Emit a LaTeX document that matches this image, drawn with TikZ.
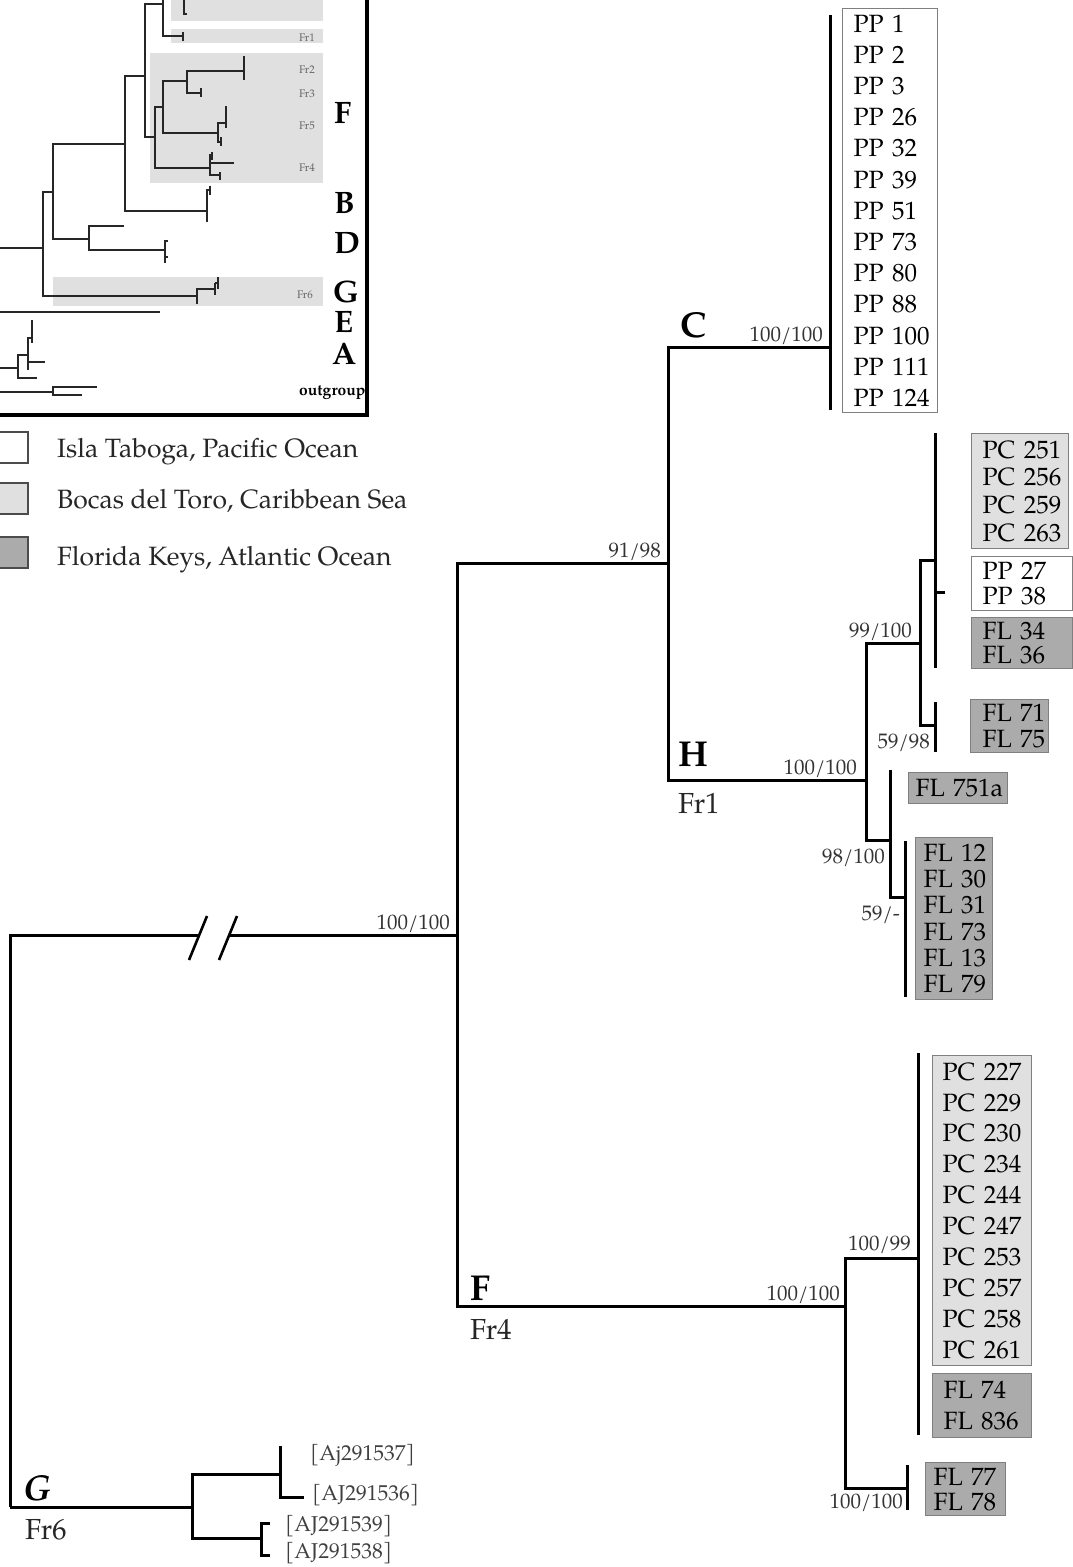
\documentclass[tikz,border=0pt]{standalone}
\usepackage{fontspec}
\setmainfont{texgyrepagella}[Extension=.otf, UprightFont=*-regular, BoldFont=*-bold, ItalicFont=*-italic, BoldItalicFont=*-bolditalic]
\usepackage{xcolor}
\usepackage{tikz}

\definecolor{bocas}{HTML}{E0E0E0}
\definecolor{keys}{HTML}{ABABAB}
\definecolor{boxline}{HTML}{7F7F7F}
\newcommand{\tx}[1]{\fontsize{25}{#1}\selectfont}

\tikzset{
  branch/.style={line width=3pt},
  twig/.style={line width=1.4pt, black!85},
  boot/.style={anchor=base east, inner sep=0pt, text=black!80, font=\fontsize{21}{24}\selectfont},
  taxa/.style={draw=boxline, line width=1.2pt, anchor=north west, align=left, inner ysep=0pt},
  clade/.style={anchor=base west, inner sep=0pt, font=\fontsize{36}{40}\selectfont\bfseries},
  frag/.style={anchor=base west, inner sep=0pt, text=black!85, font=\fontsize{29}{32}\selectfont},
  acc/.style={anchor=west, inner sep=0pt, text=black!75, font=\fontsize{21.5}{24}\selectfont},
  legbox/.style={draw=black!70, line width=1.5pt, minimum width=30pt, minimum height=31pt, inner sep=0pt},
  legtext/.style={anchor=base west, inner sep=0pt, text=black!85, font=\fontsize{26.5}{30}\selectfont},
  iclade/.style={anchor=base west, inner sep=0pt, text height=0.69em, text depth=0pt, font=\fontsize{31}{36}\selectfont\bfseries},
  ifrag/.style={anchor=base east, inner sep=0pt, text=black!60, font=\fontsize{11}{12}\selectfont},
}

\begin{document}
\begin{tikzpicture}[x=1pt, y=-1pt]
\useasboundingbox (0,0) rectangle (1072,1567);

% inset
\fill[bocas] (171,-5) rectangle (323,21);
\fill[bocas] (171,29) rectangle (323,43);
\fill[bocas] (150,53) rectangle (323,183);
\fill[bocas] (53,277) rectangle (323,306);
\draw[twig] (163,-5) -- (163,36) -- (183,36) (183,32) -- (183,41);
\draw[twig] (184,-2) -- (184,14) -- (187,14);
\draw[twig] (163,4) -- (145,4) -- (145,137) -- (155,137);
\draw[twig] (163,107) -- (155,107) -- (155,168) -- (210,168);
\draw[twig] (187,81) -- (163,81) -- (163,133) -- (218,133);
\draw[twig] (244,71) -- (187,71) -- (187,93) -- (201,93) (244,56) -- (244,80) (201,88) -- (201,97);
\draw[twig] (226,123) -- (218,123) -- (218,142) -- (221,142) (221,137) -- (221,146);
\draw[twig, line width=1.8pt] (226,106) -- (226,128);
\draw[twig] (212,155) -- (210,155) -- (210,175) -- (220,175) (210,163) -- (234,163) (220,172) -- (220,180) (212,152) -- (212,160);
\draw[twig] (145,76) -- (125,76) -- (125,211) -- (207,211) (207,222) -- (207,190) -- (210,190) (210,186) -- (210,195);
\draw[twig] (125,144) -- (53,144) -- (53,239) -- (89,239) (124,226) -- (89,226) -- (89,250) -- (165,250);
\draw[twig] (165,240) -- (165,263) (165,241) -- (168,241) (165,257) -- (168,257);
\draw[twig] (0,248) -- (43,248) (53,192) -- (43,192) -- (43,296) -- (197,296);
\draw[twig] (197,304) -- (197,289) -- (215,289) (215,283) -- (215,295) (215,283) -- (218,283) (218,277) -- (218,289);
\draw[twig] (0,312) -- (160,312);
\draw[twig] (0,368) -- (18,368) (37,378) -- (18,378) -- (18,355) -- (28,355);
\draw[twig] (45,362) -- (28,362) -- (28,338) -- (32,338) (28,338) -- (28,370) (32,320) -- (32,343);
\draw[twig] (0,392) -- (53,392) (97,387) -- (53,387) -- (53,395) -- (82,395);
\node[ifrag] (ifr1) at (315,41) {Fr1};
\node[ifrag] (ifr2) at (315,73) {Fr2};
\node[ifrag] (ifr3) at (315,97) {Fr3};
\node[ifrag] (ifr5) at (315,129) {Fr5};
\node[ifrag] (ifr4) at (315,171) {Fr4};
\node[ifrag] (ifr6) at (313,298) {Fr6};
\node[iclade] (iF) at (334,123) {F};
\node[iclade] (iB) at (334,213) {B};
\node[iclade] (iD) at (334,253) {D};
\node[iclade] (iG) at (333,302) {G};
\node[iclade] (iE) at (334,332) {E};
\node[iclade] (iA) at (332,364) {A};
\node[anchor=base west, inner sep=0pt, font=\fontsize{15.6}{18}\selectfont\bfseries] (iout) at (299,395) {outgroup};
\draw[line width=3.5pt] (367,-5) -- (367,415) -- (-5,415);

% legend
\node[legbox, fill=white] (lg1) at (13,447.5) {};
\node[legbox, fill=bocas] (lg2) at (13,498.5) {};
\node[legbox, fill=keys] (lg3) at (13,552.5) {};
\node[legtext] (lt1) at (57,457) {Isla Taboga, Pacific Ocean};
\node[legtext] (lt2) at (57,508) {Bocas del Toro, Caribbean Sea};
\node[legtext] (lt3) at (57,565) {Florida Keys, Atlantic Ocean};

% tree
\coordinate (root) at (10,935);
\coordinate (gbase) at (10,1507);
\coordinate (brkL) at (199,935);
\coordinate (brkR) at (229,935);
\coordinate (ing) at (457,935);
\coordinate (cH) at (668,563);
\coordinate (cC) at (830,347);
\coordinate (cHa) at (866,780);
\coordinate (c99) at (920,643);
\coordinate (cPC) at (935,560);
\coordinate (c59) at (935,725);
\coordinate (cFL) at (905,897);
\coordinate (cF) at (845,1306);
\coordinate (cPC2) at (918,1258);
\coordinate (cFL2) at (907,1488);
\coordinate (cG) at (192,1507);
\coordinate (cG1) at (280,1474);
\coordinate (cG2) at (261,1538);

\draw[branch] (gbase) -- (root) -- (brkL);
\draw[branch] (brkR) -- (ing);
\draw[line width=2.6pt] (189,960) -- (207,916) (219,960) -- (237,916);
\draw[branch] (cH) -| (ing) |- (cF);
\draw[branch] (cC) -| (cH) |- (cHa);
\draw[branch] (830,15) -- (830,410);
\draw[branch] (c99) -| (cHa) |- (890,840);
\draw[branch] (cPC) -| (c99) |- (c59);
\draw[branch] (935,433) -- (935,668) (935,592) -- (945,592);
\draw[branch] (935,702) -- (935,752);
\draw[branch] (890,770) |- (cFL);
\draw[branch] (905,841) -- (905,997);
\draw[branch] (cPC2) -| (cF) |- (cFL2);
\draw[branch] (918,1053) -- (918,1435);
\draw[branch] (907,1465) -- (907,1510);
\draw[branch] (gbase) -- (cG);
\draw[branch] (cG1) -| (cG) |- (cG2);
\draw[branch] (280,1446) |- (304,1497);
\draw[branch] (270,1523) -| (261,1555) -- (270,1555);

\node[boot] (bsIng) at (450,929) {100/100};
\node[boot] (bsH) at (661,557) {91/98};
\node[boot] (bsC) at (823,341) {100/100};
\node[boot] (bsHa) at (857,774) {100/100};
\node[boot] (bs99) at (912,637) {99/100};
\node[boot] (bs59) at (930,748) {59/98};
\node[boot] (bs98) at (885,863) {98/100};
\node[boot] (bsFL) at (900,920) {59/-};
\node[boot] (bsF) at (840,1300) {100/100};
\node[boot] (bsPC2) at (911,1250) {100/99};
\node[boot] (bsFL2) at (903,1508) {100/100};

\node[clade] (lC) at (680,337) {C};
\node[clade] (lH) at (678,766) {H};
\node[clade] (lF) at (470,1300) {F};
\node[clade, font=\fontsize{36}{40}\selectfont\bfseries\itshape] (lG) at (23,1500) {G};
\node[frag] (fr1) at (678,813) {Fr1};
\node[frag] (fr4) at (470,1339) {Fr4};
\node[frag] (fr6) at (25,1539) {Fr6};

\node[acc] (aj37) at (310,1455) {[Aj291537]};
\node[acc] (aj36) at (312,1495) {[AJ291536]};
\node[acc] (aj39) at (285,1526) {[AJ291539]};
\node[acc] (aj38) at (285,1553) {[AJ291538]};

\node[taxa, fill=white, font=\tx{31.2}, inner xsep=11pt, text width=73pt, minimum height=404pt] (pp) at (842,8)
  {PP~1\\PP~2\\PP~3\\PP~26\\PP~32\\PP~39\\PP~51\\PP~73\\PP~80\\PP~88\\PP~100\\PP~111\\PP~124};
\node[taxa, fill=bocas, font=\tx{27.7}, inner xsep=11pt, text width=75pt, minimum height=115pt] (pc1) at (971,433)
  {PC~251\\PC~256\\PC~259\\PC~263};
\node[taxa, fill=white, font=\tx{25}, inner xsep=11pt, text width=79pt, minimum height=54pt] (pp2) at (971,556)
  {PP~27\\PP~38};
\node[taxa, fill=keys, font=\tx{24}, inner xsep=11pt, text width=79pt, minimum height=51pt] (fl1) at (971,617)
  {FL~34\\FL~36};
\node[taxa, fill=keys, font=\tx{26}, inner xsep=12pt, text width=54pt, minimum height=53pt] (fl2) at (970,699)
  {FL~71\\FL~75};
\node[taxa, fill=keys, font=\tx{30}, inner xsep=7pt, text width=85pt, minimum height=31pt] (fl3) at (908,772)
  {FL~751a};
\node[taxa, fill=keys, font=\tx{26.2}, inner xsep=8pt, text width=61pt, minimum height=162pt] (fl4) at (915,837)
  {FL~12\\FL~30\\FL~31\\FL~73\\FL~13\\FL~79};
\node[taxa, fill=bocas, font=\tx{30.9}, inner xsep=10pt, text width=79pt, minimum height=310pt] (pc2) at (932,1055)
  {PC~227\\PC~229\\PC~230\\PC~234\\PC~244\\PC~247\\PC~253\\PC~257\\PC~258\\PC~261};
\node[taxa, fill=keys, font=\tx{31}, inner xsep=11pt, text width=77pt, minimum height=64pt] (fl5) at (932,1373)
  {FL~74\\FL~836};
\node[taxa, fill=keys, font=\tx{25}, inner xsep=8pt, text width=64pt, minimum height=53pt] (fl6) at (925,1462)
  {FL~77\\FL~78};
\end{tikzpicture}
\end{document}
